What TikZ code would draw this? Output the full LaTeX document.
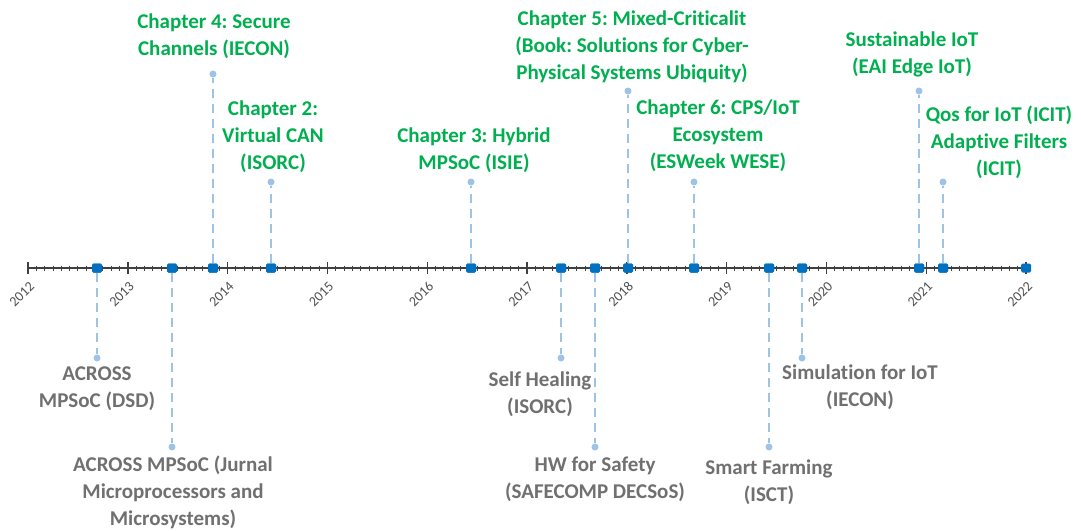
\documentclass[tikz,border=0pt]{standalone}
\usepackage{fontspec}
\setmainfont[Ligatures=NoCommon]{Carlito}
\frenchspacing
\definecolor{mkblue}{RGB}{0,112,192}
\definecolor{pinblue}{RGB}{157,195,230}
\definecolor{upgreen}{RGB}{0,176,80}
\definecolor{downgray}{RGB}{112,112,112}
\definecolor{axisgray}{RGB}{64,64,64}
\definecolor{yeargray}{RGB}{80,80,80}
\tikzset{
  evt/.style={fill=mkblue, rounded corners=1.5pt, minimum width=10pt, minimum height=9pt, inner sep=0pt},
  pin/.style={circle, fill=pinblue, minimum size=7pt, inner sep=0pt},
  stem/.style={pinblue, line width=2.2pt, dash pattern=on 9pt off 6pt},
  uplab/.style={text=upgreen, font=\bfseries\fontsize{21}{27}\selectfont, align=center, inner sep=0pt},
  downlab/.style={text=downgray, font=\bfseries\fontsize{21}{27}\selectfont, align=center, inner sep=0pt},
  yearlab/.style={text=yeargray, font=\fontsize{14}{14}\selectfont, rotate=45, anchor=east, inner sep=0pt},
  axisline/.style={axisgray, line width=1.6pt},
  minortick/.style={axisgray, line width=0.9pt},
  majortick/.style={axisgray, line width=1.4pt}
}
\begin{document}
\begin{tikzpicture}[x=1pt, y=-1pt]
\useasboundingbox[fill=white] (0,0) rectangle (1081,530);

% time axis 2012--2022 with monthly ticks
\coordinate (axL) at (28,268);
\coordinate (axR) at (1026,268);
\draw[axisline] (axL) -- (axR);
\foreach \m in {0,...,120}{
  \pgfmathsetmacro{\tx}{28+\m*99.8/12}
  \pgfmathtruncatemacro{\r}{mod(\m,12)}
  \ifnum\r=0
    \draw[majortick] (\tx,262) -- (\tx,274);
    \pgfmathtruncatemacro{\yr}{2012+\m/12}
    \node[yearlab] (y\yr) at (\tx+4,284) {\yr};
  \else
    \draw[minortick] (\tx,265.5) -- (\tx,270.5);
  \fi
}

% event markers on the axis
\node[evt] (m1)  at (97,268)  {};
\node[evt] (m2)  at (172,268) {};
\node[evt] (m3)  at (213,268) {};
\node[evt] (m4)  at (271,268) {};
\node[evt] (m5)  at (471,268) {};
\node[evt] (m6)  at (561,268) {};
\node[evt] (m7)  at (595,268) {};
\node[evt] (m8)  at (628,268) {};
\node[evt] (m9)  at (694,268) {};
\node[evt] (m10) at (769,268) {};
\node[evt] (m11) at (802,268) {};
\node[evt] (m12) at (919,268) {};
\node[evt] (m13) at (943,268) {};
\node[evt] (m14) at (1026,268) {};

% pin heads
\node[pin] (p1)  at (97,358)  {};
\node[pin] (p2)  at (172,447) {};
\node[pin] (p3)  at (213,74)  {};
\node[pin] (p4)  at (271,182) {};
\node[pin] (p5)  at (471,182) {};
\node[pin] (p6)  at (561,358) {};
\node[pin] (p7)  at (595,447) {};
\node[pin] (p8)  at (628,91)  {};
\node[pin] (p9)  at (694,182) {};
\node[pin] (p10) at (769,447) {};
\node[pin] (p11) at (802,358) {};
\node[pin] (p12) at (919,91)  {};
\node[pin] (p13) at (943,182) {};

% dashed stems
\foreach \i in {1,...,13}{
  \draw[stem] (m\i) -- (p\i);
}
% redraw markers over stems
\foreach \i/\x in {1/97,2/172,3/213,4/271,5/471,6/561,7/595,8/628,9/694,10/769,11/802,12/919,13/943}{
  \fill[mkblue, rounded corners=1.5pt] (\x-5,263.5) rectangle (\x+5,272.5);
}

% publications above the axis
\node[uplab] (l3)  at (214,36)  {Chapter 4: Secure\\Channels (IECON)};
\node[uplab] (l4)  at (273,137) {Chapter 2:\\Virtual CAN\\(ISORC)};
\node[uplab] (l5)  at (474,150) {Chapter 3: Hybrid\\MPSoC (ISIE)};
\node[uplab] (l8)  at (632,47)  {Chapter 5: Mixed-Criticalit\\(Book: Solutions for Cyber-\\Physical Systems Ubiquity)};
\node[uplab] (l9)  at (718,136) {Chapter 6: CPS/IoT\\Ecosystem\\(ESWeek WESE)};
\node[uplab] (l12) at (912,54)  {Sustainable IoT\\(EAI Edge IoT)};
\node[uplab] (l13) at (999,142) {Qos for IoT (ICIT)\\Adaptive Filters\\(ICIT)};

% publications below the axis
\node[downlab] (l1)  at (97,389)  {ACROSS\\MPSoC (DSD)};
\node[downlab] (l2)  at (173,492) {ACROSS MPSoC (Jurnal\\Microprocessors and\\Microsystems)};
\node[downlab] (l6)  at (540,394) {Self Healing\\(ISORC)};
\node[downlab] (l7)  at (595,479) {HW for Safety\\(SAFECOMP DECSoS)};
\node[downlab] (l10) at (769,482) {Smart Farming\\(ISCT)};
\node[downlab] (l11) at (860,387) {Simulation for IoT\\(IECON)};
\end{tikzpicture}
\end{document}
